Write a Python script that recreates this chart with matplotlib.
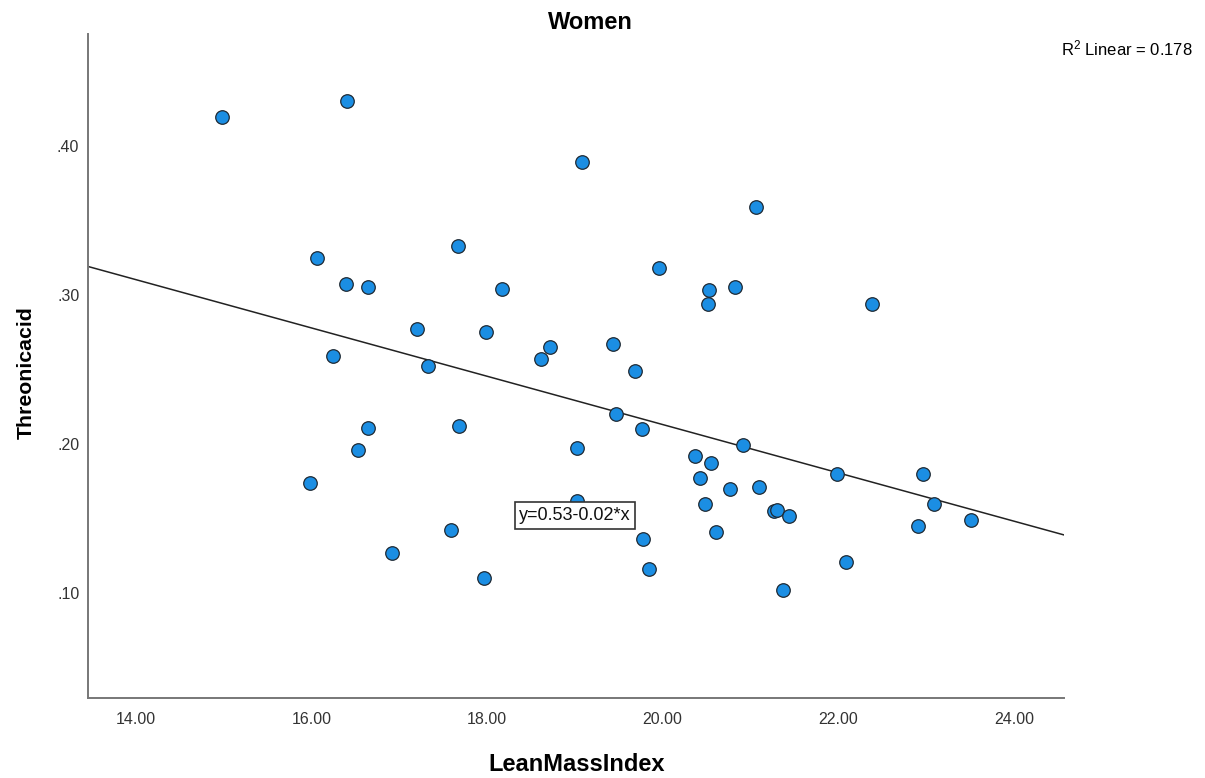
import numpy as np
import matplotlib
matplotlib.use("Agg")
import matplotlib.pyplot as plt

plt.rcParams['font.family'] = ['Liberation Sans', 'DejaVu Sans']
plt.rcParams['mathtext.fontset'] = 'custom'
plt.rcParams['mathtext.rm'] = 'Liberation Sans'
plt.rcParams['mathtext.it'] = 'Liberation Sans'

# LeanMassIndex (x) and Threonic acid (y), women only
lean_mass_index = [
    14.98, 16.41, 16.06, 16.39, 16.64, 19.08, 21.06, 17.67, 18.17, 19.96,
    20.53, 20.82, 20.52, 16.25, 16.65, 16.53, 15.98, 16.92, 17.20, 17.99,
    18.72, 18.61, 19.44, 17.33, 19.69, 19.47, 19.77, 17.68, 19.03, 20.92,
    20.37, 20.55, 20.42, 20.77, 21.10, 20.48, 21.27, 21.30, 21.44, 19.02,
    17.59, 19.78, 20.61, 17.96, 19.84, 21.37, 22.38, 21.98, 22.96, 23.09,
    22.91, 23.51, 22.09,
]
threonic_acid = [
    0.419, 0.430, 0.325, 0.307, 0.305, 0.389, 0.359, 0.333, 0.304, 0.318,
    0.303, 0.305, 0.294, 0.259, 0.211, 0.196, 0.174, 0.127, 0.277, 0.275,
    0.265, 0.257, 0.267, 0.252, 0.249, 0.220, 0.210, 0.212, 0.197, 0.199,
    0.192, 0.187, 0.177, 0.170, 0.171, 0.160, 0.155, 0.156, 0.152, 0.162,
    0.142, 0.136, 0.141, 0.110, 0.116, 0.102, 0.294, 0.180, 0.180, 0.160,
    0.145, 0.149, 0.121,
]
x_ticks = [14, 16, 18, 20, 22, 24]
y_ticks = [0.10, 0.20, 0.30, 0.40]

# linear fit as reported (R2 = 0.178)
fit_intercept = 0.537
fit_slope = -0.0162
r_squared = 0.178
equation_label = "y=0.53-0.02*x"

x = np.array(lean_mass_index)
y = np.array(threonic_acid)

fig = plt.figure(figsize=(12.05, 7.78), dpi=100)
ax = fig.add_axes([0.0733, 0.1028, 0.8097, 0.8531])

xmin, xmax = 13.46, 24.57
ax.set_xlim(xmin, xmax)
ax.set_ylim(0.0296, 0.4747)

xs = np.array([xmin, xmax])
ax.plot(xs, fit_intercept + fit_slope * xs, color='#222222', lw=1.1, zorder=2)

ax.scatter(x, y, s=95, c='#1b8ee3', edgecolors='#1e2933', linewidths=0.9, zorder=3)

ax.text(19.0, 0.152, equation_label, fontsize=13, ha='center', va='center',
        color='#111111', zorder=5,
        bbox=dict(boxstyle='square,pad=0.25', fc='white', ec='#333333', lw=1.2))

ax.set_xticks(x_ticks)
ax.set_xticklabels(["%.2f" % t for t in x_ticks])
ax.set_yticks(y_ticks)
ax.set_yticklabels([("%.2f" % t)[1:] for t in y_ticks])
ax.tick_params(axis='both', length=0, labelsize=11.5, colors='#333333')
ax.tick_params(axis='x', pad=10)
ax.tick_params(axis='y', pad=6.5)

for side in ['top', 'right']:
    ax.spines[side].set_visible(False)
for side in ['left', 'bottom']:
    ax.spines[side].set_color('#777777')
    ax.spines[side].set_linewidth(1.4)

ax.set_xlabel("LeanMassIndex", fontsize=17, fontweight='bold', va='baseline')
ax.xaxis.set_label_coords(0.5, -0.1095)
ax.set_ylabel("Threonicacid", fontsize=15.3, fontweight='bold', va='center')
ax.yaxis.set_label_coords(-0.064, 0.491)

fig.text(0.4903, 0.9623, "Women", fontsize=17, fontweight='bold', ha='center', va='baseline')
fig.text(0.990, 0.9293, r"R$^{2}$ Linear = %.3f" % r_squared, fontsize=12,
         ha='right', va='baseline')

fig.savefig("out.png", dpi=100, facecolor='white')
